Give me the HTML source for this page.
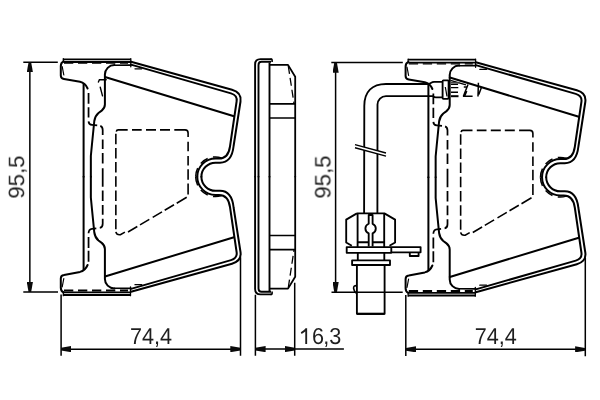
<!DOCTYPE html>
<html><head><meta charset="utf-8">
<style>
html,body{margin:0;padding:0;background:#fff;width:600px;height:400px;overflow:hidden}
svg{display:block}
text{font-family:"Liberation Sans",sans-serif;fill:#1e1e1e}
</style></head><body>
<svg width="600" height="400" viewBox="0 0 600 400">
<defs>
<g id="half" fill="none" stroke="#000" stroke-width="2" stroke-linejoin="round" stroke-linecap="round">
  <!-- outer boundary -->
  <path d="M131 61.8 L232 89.8 Q241.8 92.5 240.5 101.5 L233.6 146 Q231.8 162.7 220 162.7 L215.5 162.7 A14.1 14.1 0 0 0 201.4 176.75"/>
  <!-- inner line of double -->
  <path d="M90.85 176.75 L90.85 156 L91.9 145 L94.3 121 Q95 116 98.5 113 L101.7 110.6 Q104.9 108 104.9 104.5 L104.9 74.6 A9.5 9.5 0 0 1 114.4 65.1"/>
  <path d="M114.4 65.2 L131 65.1" stroke-width="1.6"/>
  <path d="M131 64.6 L231 93.4 Q237.6 95.4 236.6 101.5 L230 146.5 Q228.3 158.5 219 158.5 L215.5 158.5 A18.25 18.25 0 0 0 197.25 176.75"/>
  <path d="M83.6 84 L83.6 176.75"/>
  <!-- friction edge -->
  <path d="M105 77 L234 116.3"/>
  <!-- small dash -->
  <path d="M135 68.8 L141.7 68.8" stroke-width="1.3"/>
  <!-- notch dashed arc -->
  <path d="M195.7 176.75 A19.8 19.8 0 0 1 221.4 157.85" stroke-width="1.5" stroke-dasharray="9 5.5 8.5 5.5 10" stroke-linecap="butt"/>
</g>
<g id="pad">
  <use href="#half"/>
  <use href="#half" transform="matrix(1 0 0 -1 0 353.5)"/>
  <g fill="none" stroke="#000" stroke-width="2" stroke-linejoin="round" stroke-linecap="round">
    <path d="M63.3 58.6 L63.3 61.8 M130.8 58.6 L130.8 66.8" stroke-width="1.3"/>
    <path d="M63.6 61.4 Q60.8 62.6 60.8 66 L60.8 75.5 Q60.8 78.6 64 79.1 L80 81.8 Q85.2 83 87.6 88.5"/>
    <path d="M62.2 66.5 L63.8 75" stroke-width="1.2"/>
    <!-- bottom plate -->
    <path d="M63.2 295 L130.8 295" stroke-width="1.9" stroke-linecap="butt"/>
    <path d="M63.5 292.4 L131 292.4" stroke-width="1.7" stroke-linecap="butt"/>
    <path d="M63.3 292 L63.3 295.7 M130.5 286.8 L130.5 295.7" stroke-width="1.3"/>
    <path d="M64 290.5 L128 290.5" stroke-width="1.9" stroke-dasharray="9.3 4.7" stroke-linecap="butt"/>
    <path d="M63.6 292.3 Q60.8 291.1 60.8 287.7 L60.8 278.5 Q60.8 275.5 64 275.1 L80 271.9 Q85.2 270.6 87.6 265"/>
    <path d="M62.2 287 L63.8 278.5" stroke-width="1.2"/>
  </g>
  <g fill="none" stroke="#000" stroke-width="1.75" stroke-linecap="butt">
    <path d="M88.55 92.9 L88.55 103.8 M88.55 107.3 L88.55 117.6 M88.55 121.4 Q88.7 124.6 92 124.9 L97.2 125.4"/>
    <path d="M100.3 125.9 Q102.7 126.8 102.7 130 L102.7 135 M102.7 139.5 L102.7 148.9 M102.7 153 L102.7 163.5 M102.7 168.3 L102.7 186.7 M102.7 190.6 L102.7 201 M102.7 205 L102.7 214.7 M102.7 218.8 L102.7 223.8 Q102.7 227.4 99.8 227.9"/>
    <path d="M96.3 228.4 L92 228.8 Q88.7 229.2 88.55 233.2 M88.55 237 L88.55 247.9 M88.55 250.7 L88.55 261.7"/>
  </g>
  <g fill="none" stroke="#000" stroke-width="1.6" stroke-linecap="butt">
    <path d="M116.3 131.6 Q116.6 129.9 118.2 129.9 L127.7 129.9 M132 129.9 L141.7 129.9 M146 129.9 L156 129.9 M160 129.9 L170 129.9 M174.3 129.9 L185 129.9 Q188.1 129.9 188.1 133 L188.1 137"/>
    <path d="M188.1 141.8 L188.1 151.2 M188.1 156 L188.1 165.6 M188.1 169.3 L188.1 179.8 M188.1 183.4 L188.1 194.5"/>
    <path d="M186.7 197.3 L176.7 203.2 M174 204.8 L164.7 210.3 M162 211.9 L152.7 217.4 M149.3 219.4 L140 224.9 M137.3 226.5 L128 232"/>
    <path d="M115.85 231.8 Q116.6 235.2 120.4 234.7 L124.9 232.1"/>
    <path d="M115.85 133.7 L115.85 144.2 M115.85 147.9 L115.85 158.4 M115.85 162.1 L115.85 172.6 M115.85 176.3 L115.85 186.8 M115.85 190.5 L115.85 201 M115.85 204.7 L115.85 215.2 M115.85 218.9 L115.85 229.2"/>
  </g>
</g>
<marker id="ah" viewBox="0 0 10.2 6.2" refX="10.2" refY="3.1" markerWidth="10.2" markerHeight="6.2" markerUnits="userSpaceOnUse" orient="auto-start-reverse">
  <path d="M0 0 L10.2 1.8 L10.2 4.4 L0 6.2 Z" fill="#0a0a0a"/>
</marker>
</defs>

<!-- LEFT PAD -->
<use href="#pad"/>
<g fill="none" stroke="#000" stroke-width="1.4" stroke-linecap="round">
  <path d="M98.4 82 L99.4 79.75 L106.2 79.75"/>
  <path d="M100.25 87.25 L102.5 95.9"/>
</g>

<g fill="none" stroke="#000" stroke-linecap="butt">
  <path d="M63.2 59.4 L130.8 59.4" stroke-width="1.75"/>
  <path d="M63.5 61.9 L131 61.9" stroke-width="2"/>
  <path d="M64 63.25 L128 63.25" stroke-width="1.15" stroke-dasharray="9.3 4.7"/>
  <path d="M408 59.6 L475.6 59.6" stroke-width="1.75"/>
  <path d="M408.3 62.6 L475.8 62.6" stroke-width="1.8"/>
  <path d="M408.8 63.9 L472.8 63.9" stroke-width="1.2" stroke-dasharray="9.3 4.7"/>
</g>
<!-- RIGHT PAD -->
<use href="#pad" transform="translate(344.8 0.5)"/>

<!-- SIDE VIEW -->
<g fill="none" stroke="#000" stroke-width="1.6" stroke-linejoin="round">
  <g id="sidehalf">
    <path d="M271.5 59.1 L260.5 59.1 Q255.1 59.1 255.1 64.5 L255.1 177.3" stroke-width="1.9"/>
    <path d="M271 61.7 L261.5 61.7 Q258.5 61.7 258.5 65 L258.5 177.3" stroke-width="1.9"/>
    <path d="M270.6 59.1 L271.4 59.1 Q272.1 59.1 272.1 60 L272.1 62.1"/>
    <path d="M269.5 62.5 L269.5 177.3" stroke-width="1.9"/>
    <path d="M269.6 64.9 L288 64.9 L295.2 76.8 L295.2 177.3" stroke-width="1.8"/>
    <path d="M269.6 103.9 L295.2 103.9 M269.6 118 L295.2 118"/>
    <path d="M288.3 66 L294 103.5" stroke-width="1.3" stroke-dasharray="8 4"/>
  </g>
  <use href="#sidehalf" transform="matrix(1 0 0 -1 0 353.5)"/>
</g>

<!-- WIRE & SENSOR -->
<g fill="none" stroke="#000" stroke-width="1.85" stroke-linejoin="round">
  <path d="M364.1 213.5 L364.3 106 C364.3 92 372 84 386 84 L427.5 84 Q430 84 431.5 82.6 Q432.3 81.9 434 81.9 L442.9 81.9"/>
  <path d="M377.4 213.5 L377.5 104.6 A8.5 8.5 0 0 1 386 96.1 L433 96.1 Q434 97.3 436 97.3 L442.9 97.3"/>
  <!-- break -->
  <path d="M355 146.2 L386 154.6" stroke="#fff" stroke-width="3"/>
  <path d="M355 144.6 L386 153 M355 147.7 L386 156.1" stroke-width="1.4"/>
  <!-- clip -->
  <rect x="442.6" y="80.4" width="6" height="18.4" rx="0.8"/>
  <path d="M445.3 87 L447 96.4" stroke-width="1.2"/>
  <path d="M451 84.3 L458 84.3 M451 87.6 L458.3 87.6 M451 92.2 L458 92.2" stroke-width="1.4"/>
  <path d="M451 96.2 L458.5 96.2" stroke-width="2"/>
  <path d="M450.5 80.4 L466 84.9" stroke-width="1.3"/>
  <path d="M451 82.4 L459.5 82.9" stroke-width="1.2" stroke="#444"/>
  <path d="M463.8 87 L467.2 87 M468 84.5 L463.3 96.6 M463 96.3 L472.6 96.3" stroke-width="1.5"/>
  <path d="M466.5 91 L464.5 96" stroke-width="2"/>
  <path d="M478.4 82.8 L478 96.6 M481.3 87.8 L478.8 94.5" stroke-width="1.5"/>
  <!-- sensor body -->
  <path d="M356.9 213.4 L384.4 213.4 L395.1 219.6 L395.1 242.5 L389.5 245.8 M356.9 213.4 L346.2 219.6 L346.2 242.5 L351.8 245.8"/>
  <path d="M357.6 213.4 L357.6 247 M384.2 213.4 L384.2 247"/>
  <path d="M357.6 242.2 L368.7 242.2 M372.6 242.2 L384.2 242.2"/>
  <path d="M368.7 246.6 L368.7 233.44 A5.2 5.2 0 0 1 368.7 223.76 L368.7 215 L372.6 215 L372.6 223.8 A5.2 5.2 0 0 1 372.6 233.4 L372.6 246.6"/>
  <!-- flange -->
  <path d="M346.7 247.1 L420.6 247.1 L420.6 252.3 L391.3 252.3 L391.3 252.8 L346.7 252.8 Z"/>
  <path d="M391.3 247.1 L391.3 252.8"/>
  <path d="M409.8 252.3 L409.8 256 L418.6 256 L418.6 252.3"/>
  <path d="M357.8 252.8 L357.8 260.4 M384.3 252.8 L384.3 260.4"/>
  <rect x="352.1" y="260.4" width="37.9" height="4.6"/>
  <path d="M356.9 265 L356.9 313.8 L384.6 313.8 L384.6 265"/>
  <path d="M356.9 313.8 L384.6 313.8" stroke-width="2.2"/>
  <path d="M356.8 285.6 Q353.4 285.4 353.6 288.3 Q354 291.6 356.8 293.6" stroke-width="1.6"/>
</g>

<!-- DIMENSIONS -->
<g fill="none" stroke="#000" stroke-width="1.5">
  <!-- left vertical -->
  <path d="M23.3 62.15 L57.8 62.15 M23.3 292.05 L58 292.05"/>
  <path d="M29.85 62.15 L29.85 292.05" marker-start="url(#ah)" marker-end="url(#ah)"/>
  <!-- left bottom -->
  <path d="M61.1 294.5 L61.1 355.8 M240.5 257.5 L240.5 355.8"/>
  <path d="M61.1 349.15 L240.5 349.15" marker-start="url(#ah)" marker-end="url(#ah)"/>
  <!-- 16,3 -->
  <path d="M255.4 294.7 L255.4 355.7 M294.7 282.7 L294.7 355.7"/>
  <path d="M255.4 349.1 L294.7 349.1" marker-start="url(#ah)" marker-end="url(#ah)"/>
  <path d="M294.7 349.1 L343.9 349.1"/>
  <!-- right vertical -->
  <path d="M331.3 62.5 L402.8 62.5 M331.5 292.3 L402.7 292.3"/>
  <path d="M335.6 62.5 L335.6 292.3" marker-start="url(#ah)" marker-end="url(#ah)"/>
  <!-- right bottom -->
  <path d="M405.8 295 L405.8 356 M585.3 258 L585.3 356.2"/>
  <path d="M405.8 349.3 L585.3 349.3" marker-start="url(#ah)" marker-end="url(#ah)"/>
</g>
<g style="will-change:transform" fill="#1e1e1e">
<text font-size="23" text-rendering="geometricPrecision" transform="translate(130 344) scale(0.94 1)">74,4</text>
<text font-size="23" text-rendering="geometricPrecision" transform="translate(312.02 344) scale(0.94 1)">6<tspan dx="-0.75">,3</tspan></text>
<path d="M306.2 343.9 L306.2 328.3 M306.4 328.8 Q304.6 331.4 301.2 333.1" fill="none" stroke="#1e1e1e" stroke-width="1.85"/>
<text font-size="23" text-rendering="geometricPrecision" transform="translate(474.7 344) scale(0.94 1)">74,4</text>
<text font-size="22.3" text-rendering="geometricPrecision" transform="translate(24.1 198.6) rotate(-90) scale(0.995 1)">95,5</text>
<text font-size="22.3" text-rendering="geometricPrecision" transform="translate(330.4 198.6) rotate(-90) scale(0.995 1)">95,5</text>
</g>
</svg>
</body></html>
